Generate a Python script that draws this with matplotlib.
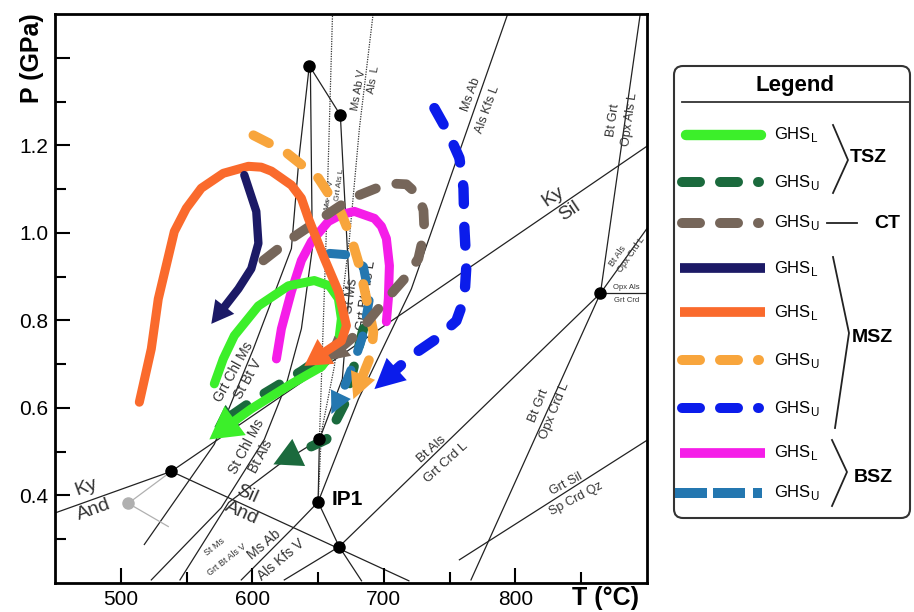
import matplotlib
matplotlib.use('Agg')
import matplotlib.pyplot as plt
import numpy as np
from matplotlib.patches import Polygon, FancyBboxPatch

plt.rcParams['font.family'] = ['Liberation Sans', 'DejaVu Sans']
plt.rcParams['mathtext.fontset'] = 'custom'
plt.rcParams['mathtext.rm'] = 'Liberation Sans'

# ---- petrogenetic grid (T in C, P in GPa) ----
ky_and_T = [450, 538.4]; ky_and_P = [0.36, 0.455]
ky_sil_T = [538.4, 901]; ky_sil_P = [0.455, 1.20]
sil_and_T = [538.4, 719]; sil_and_P = [0.455, 0.205]
grt_chl_T = [517.9, 571.1, 600.8, 629.7, 635.7, 643.3]
grt_chl_P = [0.288, 0.517, 0.735, 0.964, 1.178, 1.382]
st_chl_T = [523.2, 576.4, 609.1, 625.9, 637.3, 645.6, 644.1]
st_chl_P = [0.207, 0.372, 0.528, 0.655, 0.781, 0.964, 1.382]
st_ms_v_T = [545, 582, 620, 651]
st_ms_v_P = [0.207, 0.384, 0.47, 0.528]
st_ms_l_T = [666.9, 673.8, 668.4, 651]
st_ms_l_P = [1.269, 0.872, 0.666, 0.528]
d_e_T = [643.3, 666.9]; d_e_P = [1.382, 1.269]
ip1_c_T = [650, 651]; ip1_c_P = [0.385, 0.528]
msbt_T = [651, 656, 661]; msbt_P = [0.528, 0.98, 1.505]
msabv_T = [650, 652.5, 662.4, 673.8, 681.4, 692]
msabv_P = [0.385, 0.544, 0.696, 0.987, 1.239, 1.505]
msab_l_T = [650, 680.6, 720.9, 794.7]; msab_l_P = [0.385, 0.62, 0.872, 1.505]
msab_v_T = [591.6, 632, 650]; msab_v_P = [0.207, 0.329, 0.385]
ip1_b_T = [650, 666]; ip1_b_P = [0.385, 0.283]
b_dn_T = [666, 683]; b_dn_P = [0.283, 0.205]
btals_T = [624.3, 666, 864.6]; btals_P = [0.207, 0.283, 0.862]
btgrt_crd_T = [766.2, 864.6]; btgrt_crd_P = [0.207, 0.862]
btgrt_als_T = [864.6, 895]; btgrt_als_P = [0.862, 1.503]
opx_grt_T = [864.6, 901]; opx_grt_P = [0.862, 0.862]
btals_opx_T = [864.6, 900]; btals_opx_P = [0.862, 1.01]
grtsil_T = [757.4, 901]; grtsil_P = [0.253, 0.528]

inv_T = [643.3, 666.9, 538.4, 651, 650, 666, 864.6]
inv_P = [1.382, 1.269, 0.455, 0.528, 0.385, 0.283, 0.862]
gray_T = [505.7]; gray_P = [0.382]
gray_line1_T = [505.7, 538.4]; gray_line1_P = [0.382, 0.455]
gray_line2_T = [505.7, 536.1]; gray_line2_P = [0.382, 0.329]

# ---- P-T paths ----
orange_T = [514.1, 523.2, 528.5, 540.7, 549.8, 561.2, 577.9, 597.0, 606.8, 614.5, 629.7,
            637.3, 642.6, 654.8, 665.4, 671.5, 667.7, 639.5]
orange_P = [0.613, 0.735, 0.849, 1.003, 1.056, 1.102, 1.136, 1.152, 1.150, 1.141, 1.109,
            1.079, 1.033, 0.941, 0.866, 0.788, 0.753, 0.696]
navy_T = [593.9, 603.0, 604.6, 599.2, 589.4, 568.8]
navy_P = [1.132, 1.049, 0.976, 0.918, 0.872, 0.792]
orange_u_T = [600.8, 624.3, 650.2, 667.7, 675.3, 681.4, 686.7, 692.0, 690.5, 676.8]
orange_u_P = [1.223, 1.187, 1.125, 1.044, 0.987, 0.925, 0.850, 0.774, 0.723, 0.620]
brown_T = [608.4, 629.7, 652.5, 675.3, 703.4, 717.1, 726.2, 730.1, 730.8, 726.2, 715.6,
           700.4, 685.2, 675.3, 654.8]
brown_P = [0.937, 0.987, 1.033, 1.079, 1.113, 1.111, 1.086, 1.051, 1.003, 0.941, 0.895,
           0.843, 0.788, 0.758, 0.707]
magenta_T = [618.3, 622.1, 629.7, 637.3, 644.9, 657.8, 667.7, 677.6, 692.8, 698.1, 701.9,
             704.2, 703.4, 701.9]
magenta_P = [0.712, 0.781, 0.866, 0.937, 0.980, 1.026, 1.042, 1.049, 1.033, 1.015, 0.987,
             0.925, 0.850, 0.797]
green_T = [571.1, 577.9, 586.3, 604.6, 616.0, 627.4, 647.1, 658.6, 665.4, 667.7, 665.4,
           652.5, 629.7, 599.2, 567.3]
green_P = [0.655, 0.712, 0.765, 0.833, 0.856, 0.879, 0.891, 0.879, 0.850, 0.804, 0.746,
           0.694, 0.655, 0.598, 0.528]
dkgreen1_T = [670.0, 637.3, 603.0, 571.1]
dkgreen1_P = [0.751, 0.684, 0.622, 0.556]
dkgreen2_T = [684.4, 676.8, 670.0, 656.3, 616.0]
dkgreen2_P = [0.781, 0.689, 0.609, 0.528, 0.471]
steel_T = [658.6, 671.5, 684.4, 689.0, 684.4, 676.8, 669.2, 660.1]
steel_P = [0.953, 0.950, 0.923, 0.850, 0.769, 0.700, 0.643, 0.586]
blue_T = [738.4, 749.0, 757.4, 760.5, 761.2, 762.7, 761.2, 755.1, 739.9, 720.9, 692.8]
blue_P = [1.285, 1.228, 1.171, 1.102, 1.010, 0.925, 0.850, 0.799, 0.758, 0.719, 0.643]

fig = plt.figure(figsize=(9.14, 6.12), dpi=100)
ax = fig.add_axes([55/914, 29/612, 592/914, 569/612])
ax.set_xlim(450, 900)
ax.set_ylim(0.2, 1.5)

gk = dict(color='#222222', lw=0.9, zorder=1)
for xs, ys in [(ky_and_T, ky_and_P), (ky_sil_T, ky_sil_P), (sil_and_T, sil_and_P),
               (grt_chl_T, grt_chl_P), (st_chl_T, st_chl_P), (st_ms_v_T, st_ms_v_P),
               (st_ms_l_T, st_ms_l_P), (d_e_T, d_e_P), (ip1_c_T, ip1_c_P),
               (msab_l_T, msab_l_P), (msab_v_T, msab_v_P), (ip1_b_T, ip1_b_P),
               (b_dn_T, b_dn_P), (btals_T, btals_P), (btgrt_crd_T, btgrt_crd_P),
               (btgrt_als_T, btgrt_als_P), (opx_grt_T, opx_grt_P),
               (btals_opx_T, btals_opx_P), (grtsil_T, grtsil_P)]:
    ax.plot(xs, ys, **gk)
ax.plot(msbt_T, msbt_P, color='#333333', lw=0.9, ls=(0, (1, 1)), zorder=1)
ax.plot(msabv_T, msabv_P, color='#333333', lw=0.9, ls=(0, (1, 1)), zorder=1)
ax.plot(gray_line1_T, gray_line1_P, color='#b0b0b0', lw=0.9, zorder=1)
ax.plot(gray_line2_T, gray_line2_P, color='#b0b0b0', lw=0.9, zorder=1)

# reaction labels
labels = [
    ('Ky', 473.8, 0.418, 20, 14), ('And', 479.8, 0.368, 20, 14),
    ('Sil', 596.2, 0.402, -24, 14), ('And', 591.6, 0.359, -24, 14),
    ('Ky', 828.9, 1.083, 34, 14), ('Sil', 841, 1.049, 34, 14),
    ('Ms Ab', 766.5, 1.317, 70, 9), ('Als Kfs L', 778.7, 1.281, 70, 9),
    ('Ms Ab V', 680.6, 1.327, 80, 8), ('Als  L', 692, 1.35, 80, 8),
    ('Ms Bt V', 658.6, 1.086, 82, 6), ('Grt Als L', 666.2, 1.109, 82, 6),
    ('St Ms', 674.5, 0.856, 82, 10), ('Grt Bt Als L', 686.7, 0.856, 82, 10),
    ('Grt Chl Ms', 585.6, 0.682, 61, 10), ('St Bt V', 597, 0.666, 61, 10),
    ('St Chl Ms', 595.4, 0.512, 62, 10), ('Bt Als', 606.8, 0.489, 62, 10),
    ('St Ms', 571.1, 0.283, 38, 6.5), ('Grt Bt Als V', 580.2, 0.253, 38, 6.5),
    ('Ms Ab', 609.1, 0.288, 40, 10), ('Als Kfs V', 622.1, 0.253, 40, 10),
    ('Bt Als', 736.1, 0.505, 42, 9.5), ('Grt Crd L', 747.5, 0.476, 42, 9.5),
    ('Bt Grt', 817.5, 0.604, 68, 9.5), ('Opx Crd L', 829.7, 0.593, 68, 9.5),
    ('Grt Sil', 838.8, 0.425, 28, 9), ('Sp Crd Qz', 846.4, 0.391, 28, 9),
    ('Bt Grt', 874.5, 1.258, 82, 9), ('Opx Als L', 886.7, 1.258, 82, 9),
    ('Bt Als', 877.6, 0.946, 55, 6.5), ('Opx Crd L', 888.2, 0.95, 55, 6.5),
    ('Opx Als', 884.4, 0.875, 0, 5.5), ('Grt Crd', 884.4, 0.845, 0, 5.5),
]
for s, x, y, r, f in labels:
    ax.text(x, y, s, rotation=r, fontsize=f, ha='center', va='center',
            rotation_mode='anchor', color='#333333', zorder=2)
ax.text(660.5, 0.391, 'IP1', fontsize=15, weight='bold', ha='left', va='center', zorder=2)


def draw_path(T, P, color, lw, dashed=False, head=None, z=3):
    T = list(T); P = list(P)
    if head:
        L, W = head
        p0 = ax.transData.transform((T[-2], P[-2]))
        p1 = ax.transData.transform((T[-1], P[-1]))
        d = (p1 - p0) / np.hypot(*(p1 - p0))
        n = np.array([-d[1], d[0]])
        base = p1 - d * L
        tri = np.array([p1, base + n * W / 2, base - n * W / 2])
        tri = ax.transData.inverted().transform(tri)
        ax.add_patch(Polygon(tri, closed=True, fc=color, ec='none', zorder=z))
        bx, by = ax.transData.inverted().transform(base + d * 2)
        T[-1] = bx; P[-1] = by
    if dashed:
        ax.plot(T, P, color=color, lw=lw, zorder=z, dashes=(1.8, 2.2),
                dash_capstyle='round', dash_joinstyle='round')
    else:
        ax.plot(T, P, color=color, lw=lw, zorder=z,
                solid_capstyle='round', solid_joinstyle='round')


draw_path(magenta_T, magenta_P, '#f51de8', 6.5, z=3)
draw_path(dkgreen1_T, dkgreen1_P, '#1b6a3d', 7, dashed=True, head=(22, 24), z=3.1)
draw_path(green_T, green_P, '#3cef2a', 6.5, head=(32, 36), z=3.2)
draw_path(dkgreen2_T, dkgreen2_P, '#1b6a3d', 7, dashed=True, head=(28, 30), z=3.3)
draw_path(steel_T, steel_P, '#2477b0', 6.5, dashed=True, head=(22, 22), z=3.4)
draw_path(orange_u_T, orange_u_P, '#f8a53c', 7, dashed=True, head=(26, 26), z=3.5)
draw_path(brown_T, brown_P, '#76665a', 7, dashed=True, head=(24, 26), z=3.6)
draw_path(orange_T, orange_P, '#fa6a2c', 6.5, head=(26, 30), z=3.7)
draw_path(navy_T, navy_P, '#1c1a66', 6, head=(22, 24), z=3.8)
draw_path(blue_T, blue_P, '#0b1ceb', 7.5, dashed=True, head=(30, 30), z=3.9)

ax.plot(inv_T, inv_P, 'o', color='black', ms=8, zorder=6, ls='none')
ax.plot(gray_T, gray_P, 'o', color='#b0b0b0', ms=8, zorder=6, ls='none')

ax.set_xticks([500, 600, 700, 800])
ax.set_xticks([550, 650, 750, 850], minor=True)
ax.set_yticks([0.4, 0.6, 0.8, 1.0, 1.2, 1.4])
ax.set_yticklabels(['0.4', '0.6', '0.8', '1.0', '1.2', ''])
ax.set_yticks([0.3, 0.5, 0.7, 0.9, 1.1, 1.3], minor=True)
ax.tick_params(which='major', direction='in', length=11, width=1.5, labelsize=15, pad=5)
ax.tick_params(which='minor', direction='in', length=8, width=1.5)
for sp in ax.spines.values():
    sp.set_linewidth(2)

fig.text(32/914, 1 - 58/612, 'P (GPa)', rotation=90, ha='center', va='center',
         fontsize=18, weight='bold')
fig.text(606/914, 1 - 598/612, 'T (\u00b0C)', ha='center', va='center',
         fontsize=18, weight='bold')

# ---- legend panel ----
leg = fig.add_axes([672/914, 92/612, 242/914, 457/612])
leg.set_xlim(672, 914)
leg.set_ylim(520, 63)
leg.axis('off')
leg.add_patch(FancyBboxPatch((674, 66), 236, 452, boxstyle='round,pad=0,rounding_size=9',
                             ec='#333333', fc='white', lw=1.5, clip_on=False))
leg.text(795, 85, 'Legend', ha='center', va='center', fontsize=16, weight='bold')
leg.plot([682, 910], [102, 102], color='#333333', lw=1.3)

entry_y = [135, 182, 223, 268, 312, 360, 408, 453, 493]
entry_col = ['#3cef2a', '#1b6a3d', '#76665a', '#1c1a66', '#fa6a2c',
             '#f8a53c', '#0b1ceb', '#f51de8', '#2477b0']
entry_sub = ['L', 'U', 'U', 'L', 'L', 'U', 'U', 'L', 'U']
entry_kind = ['round', 'dot', 'dot', 'butt', 'butt', 'dot', 'dot', 'butt', 'block']

for y, c, sub, kind in zip(entry_y, entry_col, entry_sub, entry_kind):
    if kind == 'round':
        leg.plot([686, 761], [y, y], color=c, lw=7.5, solid_capstyle='round')
    elif kind == 'butt':
        leg.plot([680, 765], [y, y], color=c, lw=7, solid_capstyle='butt')
    elif kind == 'dot':
        leg.plot([682, 760], [y, y], color=c, lw=7.2, dash_capstyle='round',
                 dashes=(1.8, 2.0, 1.8, 2.0, 0.1, 10))
    else:
        leg.plot([675, 762], [y, y], color=c, lw=7.2, dash_capstyle='butt',
                 dashes=(3.2, 0.6, 3.2, 0.8, 1.0, 10))
    leg.text(774, y, 'GHS$_{\\mathrm{%s}}$' % sub, ha='left', va='center', fontsize=12)

bk = dict(color='#222222', lw=1.3)
leg.plot([833, 848, 833], [125, 160, 193], **bk)
leg.text(868, 157, 'TSZ', ha='center', va='center', fontsize=14, weight='bold')
leg.plot([827, 857], [223, 223], **bk)
leg.text(887, 223, 'CT', ha='center', va='center', fontsize=14, weight='bold')
leg.plot([833, 849, 835], [257, 333, 428], **bk)
leg.text(872, 337, 'MSZ', ha='center', va='center', fontsize=14, weight='bold')
leg.plot([832, 847, 832], [440, 472, 506], **bk)
leg.text(873, 477, 'BSZ', ha='center', va='center', fontsize=14, weight='bold')

fig.savefig('out.png', dpi=100)
